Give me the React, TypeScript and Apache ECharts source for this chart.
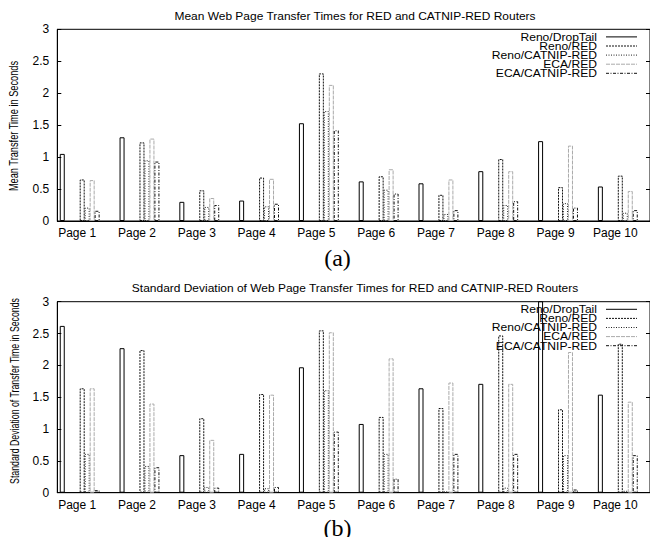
import React, { useEffect, useRef } from "react";
import * as echarts from "echarts";

const pagePositions = [1, 2, 3, 4, 5, 6, 7, 8, 9, 10];
const pageLabels = ["Page 1", "Page 2", "Page 3", "Page 4", "Page 5", "Page 6", "Page 7", "Page 8", "Page 9", "Page 10"];
const seriesNames = ["Reno/DropTail", "Reno/RED", "Reno/CATNIP-RED", "ECA/RED", "ECA/CATNIP-RED"];
const yTicks = [0, 0.5, 1, 1.5, 2, 2.5, 3];

const meanDropTail = [1.05, 1.31, 0.3, 0.32, 1.53, 0.62, 0.59, 0.78, 1.25, 0.54];
const meanRenoRED = [0.65, 1.23, 0.48, 0.68, 2.31, 0.7, 0.41, 0.97, 0.53, 0.71];
const meanRenoCATNIP = [0.21, 0.95, 0.22, 0.23, 1.72, 0.49, 0.11, 0.25, 0.28, 0.13];
const meanECARED = [0.64, 1.29, 0.36, 0.66, 2.13, 0.81, 0.65, 0.78, 1.18, 0.47];
const meanECACATNIP = [0.16, 0.93, 0.25, 0.27, 1.42, 0.43, 0.17, 0.31, 0.21, 0.17];

const sdDropTail = [2.62, 2.27, 0.59, 0.61, 1.97, 1.08, 1.64, 1.71, 3.4, 1.54];
const sdRenoRED = [1.64, 2.24, 1.17, 1.55, 2.55, 1.19, 1.33, 2.47, 1.31, 2.34];
const sdRenoCATNIP = [0.61, 0.42, 0.09, 0.07, 1.61, 0.61, 0.02, 0.08, 0.59, 0.03];
const sdECARED = [1.64, 1.4, 0.83, 1.54, 2.52, 2.11, 1.73, 1.71, 2.21, 1.43];
const sdECACATNIP = [0.04, 0.4, 0.08, 0.09, 0.96, 0.22, 0.61, 0.61, 0.05, 0.59];

const meanSeries = [meanDropTail, meanRenoRED, meanRenoCATNIP, meanECARED, meanECACATNIP];
const sdSeries = [sdDropTail, sdRenoRED, sdRenoCATNIP, sdECARED, sdECACATNIP];

const topTitle = "Mean Web Page Transfer Times for RED and CATNIP-RED Routers";
const bottomTitle = "Standard Deviation of Web Page Transfer Times for RED and CATNIP-RED Routers";
const topYName = "Mean Transfer Time in Seconds";
const bottomYName = "Standard Deviation of Transfer Time in Seconds";

// bar slot offsets (in page units) and line styles
const offsets = [-3 / 12, 1 / 12, 2 / 12, 3 / 12, 4 / 12];
const styles = [
  { color: "#000", dash: null as number[] | null },
  { color: "#111", dash: [2, 1] },
  { color: "#222", dash: [1, 1.5] },
  { color: "#aaa", dash: [4, 1] },
  { color: "#111", dash: [3, 1.5, 1, 1.5] },
];

const FONT = "'Liberation Sans', Arial, Helvetica, sans-serif";

const grids = [
  { left: 57.3, top: 29.3, width: 592.7, height: 191.7 },
  { left: 57.3, top: 301.7, width: 592.7, height: 191 },
];

export default function App() {
  const ref = useRef<HTMLDivElement>(null);
  useEffect(() => {
    if (!ref.current) return;
    const chart = echarts.init(ref.current, null, { renderer: "svg" });

    const xAxes = grids.map((_, gi) => ({
      type: "value",
      gridIndex: gi,
      min: 0.667,
      max: 10.58,
      axisLine: { show: true, lineStyle: { color: "#000", width: 1 } },
      axisTick: { show: false },
      splitLine: { show: false },
      axisLabel: {
        customValues: pagePositions,
        formatter: (v: number) => pageLabels[Math.round(v) - 1] ?? "",
        color: "#000",
        fontFamily: FONT,
        fontSize: 12,
        margin: 6,
      },
    }));

    const yAxes: any[] = [];
    grids.forEach((_, gi) => {
      yAxes.push({
        type: "value",
        gridIndex: gi,
        min: 0,
        max: 3,
        interval: 0.5,
        position: "left",
        axisLine: { show: true, lineStyle: { color: "#000", width: 1 } },
        axisTick: { show: true, inside: true, length: 4, lineStyle: { color: "#000" } },
        splitLine: { show: false },
        axisLabel: {
          customValues: yTicks,
          color: "#000",
          fontFamily: FONT,
          fontSize: 12,
          margin: 8,
        },
      });
      yAxes.push({
        type: "value",
        gridIndex: gi,
        min: 0,
        max: 3,
        interval: 0.5,
        position: "right",
        axisLine: { show: true, lineStyle: { color: "#000", width: 1 } },
        axisTick: { show: true, inside: true, length: 4, lineStyle: { color: "#000" } },
        splitLine: { show: false },
        axisLabel: { show: false },
      });
    });

    const series: any[] = [];
    [meanSeries, sdSeries].forEach((set, gi) => {
      set.forEach((vals, si) => {
        series.push({
          type: "bar",
          name: seriesNames[si],
          xAxisIndex: gi,
          yAxisIndex: gi * 2,
          barWidth: 5,
          barGap: "-100%",
          clip: true,
          data: vals.map((v, pi) => [pagePositions[pi] + offsets[si], v]),
          itemStyle: {
            color: "rgba(0,0,0,0)",
            borderColor: styles[si].color,
            borderWidth: 1,
            borderType: styles[si].dash ? styles[si].dash : "solid",
          },
        });
      });
    });

    const graphics: any[] = [];
    grids.forEach((g, gi) => {
      // title
      graphics.push({
        type: "text",
        x: 355,
        y: g.top - 13.5,
        scaleX: 1.14,
        style: {
          text: gi === 0 ? topTitle : bottomTitle,
          align: "center",
          verticalAlign: "middle",
          font: `10.5px ${FONT}`,
          fill: "#000",
        },
      });
      // y axis name
      graphics.push({
        type: "text",
        x: 14,
        y: gi === 0 ? 126 : 391,
        rotation: Math.PI / 2,
        scaleX: gi === 0 ? 0.77 : 0.73,
        style: {
          text: gi === 0 ? topYName : bottomYName,
          align: "center",
          verticalAlign: "middle",
          font: `12px ${FONT}`,
          fill: "#000",
        },
      });
      // legend
      seriesNames.forEach((name, si) => {
        const y = g.top + 7.6 + si * 9.1;
        graphics.push({
          type: "text",
          x: 597,
          y,
          scaleX: 1.1,
          style: { text: name, align: "right", verticalAlign: "middle", font: `11px ${FONT}`, fill: "#000" },
        });
        graphics.push({
          type: "line",
          shape: { x1: 606, y1: y, x2: 637, y2: y },
          style: {
            stroke: styles[si].color,
            lineWidth: 1,
            lineDash: styles[si].dash ? styles[si].dash : null,
          },
        });
      });
      // panel label
      graphics.push({
        type: "text",
        x: 337.5,
        y: gi === 0 ? 258 : 528,
        style: {
          text: gi === 0 ? "(a)" : "(b)",
          align: "center",
          verticalAlign: "middle",
          font: `24px 'Liberation Serif', 'Times New Roman', serif`,
          fill: "#000",
        },
      });
    });

    chart.setOption({
      animation: false,
      backgroundColor: "#fff",
      grid: grids.map((g) => ({ ...g, show: true, borderColor: "#000", borderWidth: 1, containLabel: false })),
      xAxis: xAxes,
      yAxis: yAxes,
      series,
      graphic: graphics,
    });
    return () => chart.dispose();
  }, []);
  return (
    <div
      ref={ref}
      style={{ position: "absolute", left: 0, top: 0, width: 650, height: 537, background: "#fff" }}
    />
  );
}
